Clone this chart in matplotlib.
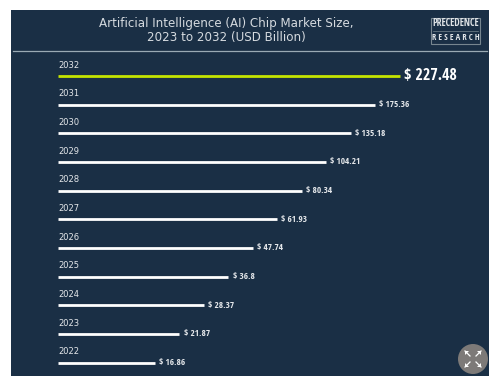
import matplotlib
matplotlib.use('Agg')
import matplotlib.pyplot as plt
from matplotlib.patches import Rectangle, Circle, Polygon

W, H = 501, 384

years = ['2022', '2023', '2024', '2025', '2026', '2027', '2028', '2029', '2030', '2031', '2032']
values = [16.86, 21.87, 28.37, 36.8, 47.74, 61.93, 80.34, 104.21, 135.18, 175.36, 227.48]
value_labels = ['$ 16.86', '$ 21.87', '$ 28.37', '$ 36.8', '$ 47.74', '$ 61.93', '$ 80.34',
                '$ 104.21', '$ 135.18', '$ 175.36', '$ 227.48']

navy = '#1a2f45'
green = '#c4e400'
narrow = 'Open Sans Condensed'

fig = plt.figure(figsize=(W / 100, H / 100), dpi=100, facecolor='white')

# background layer in pixel coords, y going down
bg = fig.add_axes([0, 0, 1, 1])
bg.set_xlim(0, W)
bg.set_ylim(H, 0)
bg.axis('off')
bg.add_patch(Rectangle((11, 10), 478, 366, fc=navy, ec='none'))
bg.plot([13, 487], [50.5, 50.5], c='#9aaab4', lw=0.9)
bg.text(226, 30.5, 'Artificial Intelligence (AI) Chip Market Size,\n2023 to 2032 (USD Billion)',
        color='#d5dadf', fontsize=8.6, ha='center', va='center', linespacing=1.12)

# logo
bg.add_patch(Rectangle((431, 17.5), 49, 26.5, fc='none', ec='#77868f', lw=0.8))
bg.plot([433, 478], [30.5, 30.5], c='#77868f', lw=0.5)
bg.text(455.5, 24, 'PRECEDENCE', color='#dfe3e6', fontsize=7, family=narrow,
        ha='center', va='center')
bg.text(455.5, 37.5, 'R E S E A R C H', color='#dfe3e6', fontsize=6.2, family=narrow,
        ha='center', va='center')

# bar lengths in the source follow a log scale, starting near 6
ax = fig.add_axes([58 / W, 1 - 377 / H, (399.5 - 58) / W, (377 - 61.5) / H])
ax.patch.set_alpha(0)
ax.set_xscale('log')
ax.set_xlim(6, 227.48)
ax.set_ylim(-0.5, 10.5)
ax.axis('off')

for i in range(len(years)):
    last = i == len(years) - 1
    ax.plot([6, values[i]], [i, i], c=green if last else 'white', lw=2.0,
            solid_capstyle='butt', clip_on=False)
    ax.annotate(years[i], (0, i), xycoords=('axes fraction', 'data'), xytext=(0, 4.5),
                textcoords='offset points', color='#e4e7ea', fontsize=6, va='bottom', ha='left')
    ax.annotate(value_labels[i], (values[i], i), xytext=(3.5 if last else 3, 0),
                textcoords='offset points', color='white' if last else '#e4e7ea',
                fontsize=11.4 if last else 6.6, family=narrow,
                va='center', ha='left')

# expand button
bg.add_patch(Circle((473, 359), 15, fc='#7d7a78', ec='none'))
for sx in (-1, 1):
    for sy in (-1, 1):
        a = (473 + sx * 8, 359 + sy * 8)
        b = (473 + sx * 4, 359 + sy * 8)
        c = (473 + sx * 8, 359 + sy * 4)
        bg.add_patch(Polygon([a, b, c], fc='white', ec='none'))
        bg.plot([a[0], 473 + sx * 3], [a[1], 359 + sy * 3], c='white', lw=0.9)

fig.savefig('out.png', dpi=100, facecolor='white')
